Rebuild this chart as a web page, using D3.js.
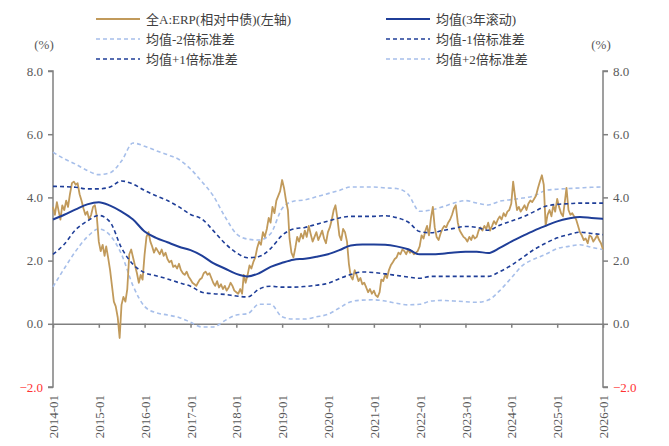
<!DOCTYPE html>
<html><head><meta charset="utf-8">
<script src="https://cdn.jsdelivr.net/npm/d3@7"></script>
<style>body{margin:0;background:#fff}svg{display:block}text{font-family:"Liberation Serif","Noto Sans CJK SC",serif}</style>
</head><body><svg id="c" width="669" height="446"></svg>
<script>
const xTickLabels=["2014-01","2015-01","2016-01","2017-01","2018-01","2019-01","2020-01","2021-01","2022-01","2023-01","2024-01","2025-01","2026-01"];
const yTickValues=[-2,0,2,4,6,8];
const seriesNames=["全A:ERP(相对中债)(左轴)","均值(3年滚动)","均值-2倍标准差","均值-1倍标准差","均值+1倍标准差","均值+2倍标准差"];
// ERP, two readings per month from 2014-01
const erp=[3.70,3.45,3.85,3.55,3.30,3.75,3.60,3.90,3.70,4.10,4.45,4.50,4.40,4.45,4.10,3.90,3.65,3.45,3.55,3.30,3.45,3.70,3.75,3.40,
2.60,2.30,2.50,2.15,2.45,2.10,1.70,1.20,0.70,0.55,0.20,-0.45,0.60,0.85,0.70,1.10,2.20,2.35,2.10,1.85,1.60,1.30,1.55,1.40,
2.20,2.75,2.90,2.60,2.45,2.25,2.40,2.30,2.20,2.35,2.15,2.25,2.05,1.95,2.00,1.80,1.85,1.75,1.90,1.70,1.60,1.55,1.65,1.50,
1.40,1.30,1.25,1.20,1.30,1.40,1.45,1.60,1.65,1.55,1.60,1.45,1.30,1.20,1.35,1.15,1.25,1.10,1.20,1.05,1.15,1.30,1.20,1.05,
1.00,0.95,1.10,0.95,1.55,1.30,1.55,1.85,1.75,1.95,2.10,2.40,2.60,2.50,2.90,2.75,3.00,3.35,3.20,3.70,3.50,3.90,4.05,4.20,
4.55,4.30,3.90,3.60,2.70,2.25,2.10,2.40,2.75,2.60,2.85,2.70,2.95,2.75,3.10,2.85,2.60,2.75,2.90,2.65,2.80,2.95,2.70,2.55,
2.90,3.05,3.30,3.60,3.75,3.35,2.80,2.65,3.00,2.90,2.60,1.90,1.50,1.40,1.70,1.55,1.35,1.45,1.25,1.30,1.15,1.00,1.10,0.95,
1.05,0.90,0.85,1.00,1.40,1.35,1.55,1.45,1.70,1.85,1.95,2.05,2.10,2.25,2.20,2.35,2.30,2.20,2.35,2.25,2.30,2.20,2.25,2.30,
2.45,2.80,2.70,2.95,3.10,2.80,3.35,3.70,3.05,2.75,2.65,2.85,3.00,3.10,3.05,3.20,3.30,3.45,3.65,3.75,3.20,2.95,2.85,2.75,
2.70,2.60,2.75,2.65,2.80,2.70,2.75,2.95,3.05,2.95,3.10,3.00,3.20,2.95,3.10,3.25,3.15,3.30,3.40,3.30,3.50,3.40,3.55,3.60,
3.80,4.50,4.00,3.60,3.70,3.55,3.65,3.75,3.60,3.80,3.90,3.85,3.95,4.05,4.30,4.50,4.70,4.40,3.10,3.45,3.60,3.40,3.75,3.55,
3.95,3.70,3.50,3.40,3.80,4.30,3.60,3.45,3.50,3.40,3.30,3.10,2.90,2.80,2.65,2.70,2.55,2.80,2.75,2.60,2.70,2.80,2.65,2.55,
2.35];
// Rolling bands, quarterly readings from 2014-01
const meanVals=[3.30,3.45,3.62,3.78,3.85,3.74,3.55,3.30,2.92,2.72,2.58,2.44,2.33,2.16,1.92,1.75,1.58,1.50,1.60,1.80,1.93,2.03,2.06,2.12,2.20,2.33,2.48,2.51,2.51,2.50,2.45,2.36,2.20,2.20,2.22,2.26,2.28,2.28,2.24,2.40,2.60,2.78,2.95,3.10,3.24,3.33,3.38,3.35,3.32];
const upper1=[4.35,4.34,4.32,4.27,4.27,4.33,4.52,4.42,4.22,4.05,3.90,3.70,3.46,3.32,2.95,2.55,2.25,2.09,2.13,2.38,2.80,3.00,3.05,3.15,3.25,3.35,3.40,3.40,3.40,3.42,3.36,3.22,2.92,2.88,2.95,3.02,3.08,3.05,2.96,3.12,3.25,3.38,3.55,3.72,3.78,3.80,3.82,3.82,3.82];
const lower1=[2.20,2.52,2.98,3.25,3.43,3.22,2.40,1.88,1.62,1.52,1.42,1.30,1.19,1.00,0.95,0.93,0.88,0.85,1.10,1.19,1.16,1.16,1.18,1.22,1.28,1.43,1.56,1.64,1.62,1.58,1.53,1.48,1.44,1.50,1.50,1.50,1.50,1.50,1.50,1.65,1.85,2.10,2.35,2.55,2.72,2.82,2.90,2.86,2.82];
const upper2=[5.43,5.22,5.05,4.85,4.72,4.78,5.15,5.72,5.62,5.48,5.35,5.20,4.90,4.50,4.05,3.40,2.85,2.68,2.65,2.85,3.65,3.88,3.92,4.02,4.12,4.22,4.33,4.33,4.33,4.30,4.28,4.10,3.56,3.60,3.70,3.82,3.90,3.82,3.76,3.88,3.93,3.98,4.05,4.22,4.26,4.28,4.30,4.32,4.33];
const lower2=[1.17,1.75,2.30,2.75,3.00,2.80,2.20,1.20,0.55,0.35,0.28,0.20,0.05,-0.10,-0.10,0.10,0.28,0.32,0.62,0.62,0.22,0.15,0.15,0.22,0.30,0.50,0.70,0.75,0.76,0.72,0.65,0.60,0.62,0.72,0.74,0.72,0.70,0.68,0.75,1.05,1.45,1.85,2.05,2.20,2.38,2.45,2.50,2.42,2.35];

const svg=d3.select("#c");
const L=53,R=603,T=71,B=387;
const x=d3.scaleTime().domain([new Date(2014,0,1),new Date(2026,0,1)]).range([L,R]);
const y=d3.scaleLinear().domain([-2,8]).range([B,T]);
const erpData=erp.map((v,i)=>({d:new Date(2014,Math.floor(i/2),i%2?16:1),v}));
const q=(arr)=>arr.map((v,i)=>({d:new Date(2014,i*3,1),v}));
const line=d3.line().x(p=>x(p.d)).y(p=>y(p.v));
const sline=d3.line().x(p=>x(p.d)).y(p=>y(p.v)).curve(d3.curveMonotoneX);

const gray="#808080",lab="#595959";
const cTan="#C19A5B",cDark="#1F3E98",cLight="#A7BFEA";

// axes
const yl=d3.axisLeft(y).tickValues(yTickValues).tickFormat(d3.format(".1f")).tickSize(5);
const yr=d3.axisRight(y).tickValues(yTickValues).tickFormat(d3.format(".1f")).tickSize(5);
function styleY(g,left){
  g.select(".domain").attr("stroke",gray).attr("stroke-width",1.5).attr("d",left?`M${-5},${T}H0V${B}H${-5}`:`M5,${T}H0V${B}H5`);
  g.selectAll(".tick line").attr("stroke",gray).attr("stroke-width",1.5);
  g.selectAll(".tick text").attr("fill",d=>d<0?"#FF3333":lab).style("font-size","13px");
}
svg.append("g").attr("transform",`translate(${L},0)`).call(yl).call(g=>styleY(g,true)).selectAll(".tick text").attr("x",-10);
svg.append("g").attr("transform",`translate(${R},0)`).call(yr).call(g=>styleY(g,false)).selectAll(".tick text").attr("x",10);

const xa=d3.axisBottom(x).tickValues(xTickLabels.map(s=>new Date(+s.slice(0,4),0,1))).tickFormat((d,i)=>xTickLabels[i]).tickSize(4).tickSizeOuter(0);
const gx=svg.append("g").attr("transform",`translate(0,${y(0)})`).call(xa);
gx.select(".domain").attr("stroke",gray).attr("stroke-width",1.5);
gx.selectAll(".tick line").attr("stroke",gray).attr("stroke-width",1.5);
gx.selectAll(".tick text").attr("fill",lab).style("font-size","13px")
  .attr("text-anchor","end").attr("dy","0.35em")
  .attr("transform",`translate(0,${398-y(0)-3}) rotate(-90)`).attr("x",0).attr("y",0);

// lines
const plot=svg.append("g");
plot.append("path").datum(q(lower2)).attr("d",sline).attr("fill","none").attr("stroke",cLight).attr("stroke-width",1.6).attr("stroke-dasharray","4,3");
plot.append("path").datum(q(upper2)).attr("d",sline).attr("fill","none").attr("stroke",cLight).attr("stroke-width",1.6).attr("stroke-dasharray","4,3");
plot.append("path").datum(erpData).attr("d",line).attr("fill","none").attr("stroke",cTan).attr("stroke-width",1.8).attr("stroke-linejoin","round");
plot.append("path").datum(q(lower1)).attr("d",sline).attr("fill","none").attr("stroke",cDark).attr("stroke-width",1.6).attr("stroke-dasharray","4,3");
plot.append("path").datum(q(upper1)).attr("d",sline).attr("fill","none").attr("stroke",cDark).attr("stroke-width",1.6).attr("stroke-dasharray","4,3");
plot.append("path").datum(q(meanVals)).attr("d",sline).attr("fill","none").attr("stroke",cDark).attr("stroke-width",2);

// unit labels
svg.append("text").attr("x",44).attr("y",49).attr("text-anchor","middle").attr("fill",lab).style("font-size","13px").text("(%)");
svg.append("text").attr("x",601).attr("y",49).attr("text-anchor","middle").attr("fill",lab).style("font-size","13px").text("(%)");

// legend
const leg=[{c:cTan,dash:null,w:1.8},{c:cDark,dash:null,w:2},{c:cLight,dash:"4,3",w:1.6},{c:cDark,dash:"4,3",w:1.6},{c:cDark,dash:"4,3",w:1.6},{c:cLight,dash:"4,3",w:1.6}];
leg.forEach((s,i)=>{
  const col=i%2,row=Math.floor(i/2);
  const lx=col?386:96, ly=19+row*20;
  const g=svg.append("g");
  g.append("line").attr("x1",lx).attr("x2",lx+44).attr("y1",ly).attr("y2",ly).attr("stroke",s.c).attr("stroke-width",s.w).attr("stroke-dasharray",s.dash);
  g.append("text").attr("x",lx+50).attr("y",ly).attr("dy","0.35em").attr("fill","#404040").style("font-size","13px").text(seriesNames[i]);
});
</script></body></html>
